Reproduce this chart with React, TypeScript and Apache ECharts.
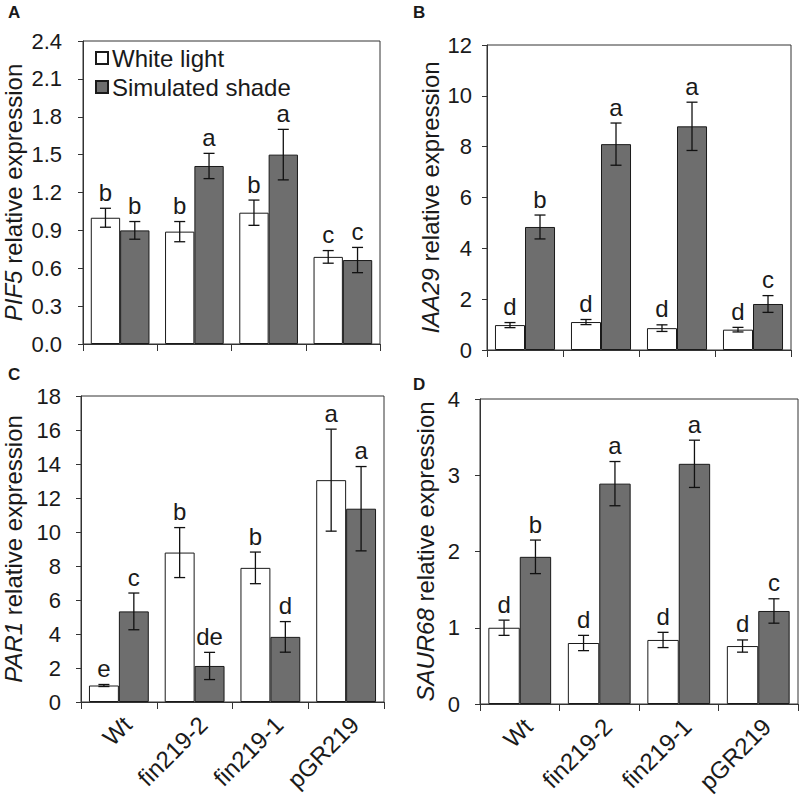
import React, { useEffect, useRef } from "react";
import * as echarts from "echarts";

const categories = ["Wt", "fin219-2", "fin219-1", "pGR219"];

// Panel A: PIF5
const pif5White = [1.0, 0.89, 1.04, 0.69];
const pif5WhiteErr = [0.075, 0.08, 0.1, 0.05];
const pif5Shade = [0.9, 1.41, 1.5, 0.665];
const pif5ShadeErr = [0.07, 0.1, 0.2, 0.1];
const pif5WhiteLetters = ["b", "b", "b", "c"];
const pif5ShadeLetters = ["b", "a", "a", "c"];

// Panel B: IAA29
const iaaWhite = [0.98, 1.1, 0.86, 0.8];
const iaaWhiteErr = [0.1, 0.1, 0.13, 0.09];
const iaaShade = [4.84, 8.1, 8.8, 1.81];
const iaaShadeErr = [0.47, 0.83, 0.95, 0.33];
const iaaWhiteLetters = ["d", "d", "d", "d"];
const iaaShadeLetters = ["b", "a", "a", "c"];

// Panel C: PAR1
const parWhite = [0.97, 8.79, 7.89, 13.05];
const parWhiteErr = [0.06, 1.47, 0.93, 3.0];
const parShade = [5.33, 2.12, 3.83, 11.37];
const parShadeErr = [1.08, 0.8, 0.9, 2.48];
const parWhiteLetters = ["e", "b", "b", "a"];
const parShadeLetters = ["c", "de", "d", "a"];

// Panel D: SAUR68
const saurWhite = [1.0, 0.8, 0.84, 0.76];
const saurWhiteErr = [0.1, 0.1, 0.1, 0.08];
const saurShade = [1.93, 2.89, 3.15, 1.22];
const saurShadeErr = [0.22, 0.29, 0.31, 0.16];
const saurWhiteLetters = ["d", "d", "d", "d"];
const saurShadeLetters = ["b", "a", "a", "c"];

const seriesNames = ["White light", "Simulated shade"];
const panelLabels = ["A", "B", "C", "D"];
const geneNames = ["PIF5", "IAA29", "PAR1", "SAUR68"];
const yMax = [2.4, 12, 18, 4];
const yInterval = [0.3, 2, 2, 1];

const FONT = "'Liberation Sans', Arial, Helvetica, sans-serif";
const TEXT = "#1a1a1a";
const LINE = "#333333";
const DARK = "#6e6e6e";
const CAT_GAP = 0.21;

const panels = [
  { white: pif5White, whiteErr: pif5WhiteErr, shade: pif5Shade, shadeErr: pif5ShadeErr, wl: pif5WhiteLetters, sl: pif5ShadeLetters },
  { white: iaaWhite, whiteErr: iaaWhiteErr, shade: iaaShade, shadeErr: iaaShadeErr, wl: iaaWhiteLetters, sl: iaaShadeLetters },
  { white: parWhite, whiteErr: parWhiteErr, shade: parShade, shadeErr: parShadeErr, wl: parWhiteLetters, sl: parShadeLetters },
  { white: saurWhite, whiteErr: saurWhiteErr, shade: saurShade, shadeErr: saurShadeErr, wl: saurWhiteLetters, sl: saurShadeLetters },
];

const grids = [
  { left: 82, top: 41, width: 298, height: 303 },
  { left: 487, top: 45, width: 304, height: 305 },
  { left: 79, top: 396, width: 305, height: 306 },
  { left: 480, top: 399, width: 318, height: 305 },
];
const nameGaps = [58, 45, 56, 43];
const labelMargins = [21, 15, 20, 20];
const panelLabelPos = [
  [8, 4],
  [413, 4],
  [8, 366],
  [413, 376],
];

function errorSeries(gi: number, vals: number[], errs: number[], letters: string[], side: number) {
  return {
    type: "custom",
    xAxisIndex: gi,
    yAxisIndex: gi,
    silent: true,
    z: 5,
    data: vals.map((v, i) => [i, v, errs[i]]),
    renderItem: (params: any, api: any) => {
      const xi = api.value(0);
      const v = api.value(1);
      const e = api.value(2);
      const band = api.size([1, 0])[0];
      const barW = (band * (1 - CAT_GAP)) / 2;
      const c = api.coord([xi, v]);
      const x = c[0] + (side * barW) / 2;
      const top = api.coord([xi, v + e])[1];
      const bot = api.coord([xi, v - e])[1];
      const cap = 5.5;
      const st = { stroke: "#111", lineWidth: 1.3 };
      return {
        type: "group",
        children: [
          { type: "line", shape: { x1: x, y1: top, x2: x, y2: bot }, style: st },
          { type: "line", shape: { x1: x - cap, y1: top, x2: x + cap, y2: top }, style: st },
          { type: "line", shape: { x1: x - cap, y1: bot, x2: x + cap, y2: bot }, style: st },
          {
            type: "text",
            x: x,
            y: top - 5,
            style: {
              text: letters[params.dataIndex],
              fill: TEXT,
              font: `24px ${FONT}`,
              fontSize: 24,
              fontFamily: FONT,
              lineHeight: 22,
              align: "center",
              verticalAlign: "bottom",
              textAlign: "center",
              textVerticalAlign: "bottom",
            },
          },
        ],
      };
    },
  };
}

export default function App() {
  const ref = useRef<HTMLDivElement>(null);
  useEffect(() => {
    if (!ref.current) return;
    const chart = echarts.init(ref.current, undefined, { renderer: "svg" });

    const xAxis = grids.map((_, gi) => ({
      type: "category",
      gridIndex: gi,
      data: categories,
      boundaryGap: true,
      axisLine: { lineStyle: { color: LINE, width: 1 } },
      axisTick: { show: true, alignWithLabel: false, length: 7, lineStyle: { color: LINE } },
      axisLabel:
        gi >= 2
          ? {
              show: true,
              rotate: 45,
              margin: 10,
              interval: 0,
              align: "right",
              verticalAlign: "top",
              color: TEXT,
              fontSize: 24,
              fontFamily: FONT,
            }
          : { show: false },
    }));

    const yAxis = grids.map((_, gi) => ({
      type: "value",
      gridIndex: gi,
      min: 0,
      max: yMax[gi],
      interval: yInterval[gi],
      splitLine: { show: false },
      axisLine: { show: true, lineStyle: { color: LINE, width: 1 } },
      axisTick: { show: true, length: 5, lineStyle: { color: LINE } },
      axisLabel: {
        color: TEXT,
        fontSize: 22,
        fontFamily: FONT,
        margin: labelMargins[gi],
        formatter: (v: number) => (gi === 0 ? v.toFixed(1) : String(v)),
      },
      name: `{i|${geneNames[gi]}}{n| relative expression}`,
      nameLocation: "middle",
      nameRotate: 90,
      nameGap: nameGaps[gi],
      nameTextStyle: {
        rich: {
          i: { fontSize: 24, fontFamily: FONT, fontStyle: "italic", color: TEXT },
          n: { fontSize: 24, fontFamily: FONT, color: TEXT },
        },
      },
    }));

    const series: any[] = [];
    panels.forEach((p, gi) => {
      series.push({
        type: "bar",
        name: seriesNames[0],
        xAxisIndex: gi,
        yAxisIndex: gi,
        data: p.white,
        barGap: "0%",
        barCategoryGap: `${CAT_GAP * 100}%`,
        itemStyle: { color: "#ffffff", borderColor: "#1a1a1a", borderWidth: 1 },
      });
      series.push({
        type: "bar",
        name: seriesNames[1],
        xAxisIndex: gi,
        yAxisIndex: gi,
        data: p.shade,
        barGap: "0%",
        barCategoryGap: `${CAT_GAP * 100}%`,
        itemStyle: { color: DARK, borderColor: "#1a1a1a", borderWidth: 1 },
      });
      series.push(errorSeries(gi, p.white, p.whiteErr, p.wl, -1));
      series.push(errorSeries(gi, p.shade, p.shadeErr, p.sl, 1));
    });

    chart.setOption({
      animation: false,
      backgroundColor: "#ffffff",
      textStyle: { fontFamily: FONT },
      grid: grids.map((g) => ({ ...g, show: true, borderColor: LINE, borderWidth: 1, backgroundColor: "transparent" })),
      xAxis,
      yAxis,
      legend: {
        data: seriesNames,
        orient: "vertical",
        left: 95,
        top: 46,
        padding: 0,
        itemWidth: 12,
        itemHeight: 12,
        itemGap: 5,
        icon: "rect",
        textStyle: { fontSize: 24, lineHeight: 23, fontFamily: FONT, color: TEXT, padding: [0, 0, 0, -1] },
      },
      graphic: panelLabels.map((t, i) => ({
        type: "text",
        left: panelLabelPos[i][0],
        top: panelLabelPos[i][1],
        style: { text: t, font: `bold 17px ${FONT}`, fill: TEXT },
      })),
      series,
    });
    return () => chart.dispose();
  }, []);
  return (
    <div
      ref={ref}
      style={{ position: "absolute", left: 0, top: 0, width: 800, height: 800, background: "#fff" }}
    />
  );
}
